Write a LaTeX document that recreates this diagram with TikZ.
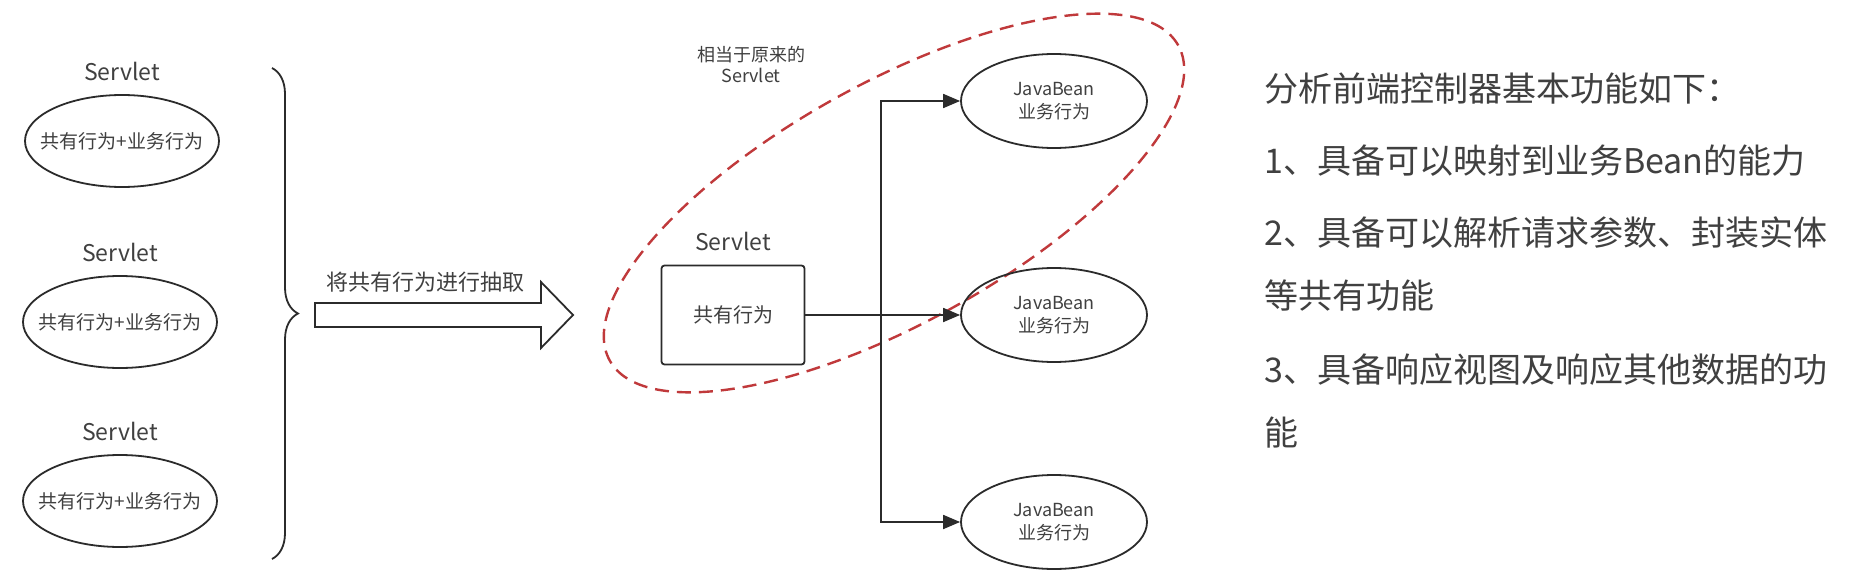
\documentclass[tikz,border=0pt]{standalone}
\usepackage{fontspec}
\setmainfont{Noto Sans CJK SC}
\usetikzlibrary{shapes.geometric, arrows.meta, positioning, decorations.pathreplacing}

\definecolor{linegray}{HTML}{2B2B2B}
\definecolor{textgray}{HTML}{404040}
\definecolor{dashred}{HTML}{C0393B}

\begin{document}
\begin{tikzpicture}[
    x=1pt, y=1pt,
    servlet/.style={ellipse, draw=linegray, line width=1.8pt, minimum width=194pt, minimum height=92pt, inner xsep=-13pt, inner ysep=0pt, font=\fontsize{19}{23}\selectfont, text=textgray},
    bean/.style={ellipse, draw=linegray, line width=1.8pt, minimum width=186pt, minimum height=94pt, inner sep=0pt, align=center, font=\fontsize{18}{23}\selectfont, text=textgray},
    common/.style={rectangle, rounded corners=3pt, draw=linegray, line width=1.8pt, minimum width=143pt, minimum height=99pt, font=\fontsize{20}{24}\selectfont, text=textgray},
    servletname/.style={inner sep=0pt, font=\fontsize{23}{28}\selectfont, text=textgray},
    note/.style={inner sep=0pt, align=center, font=\fontsize{18}{21}\selectfont, text=textgray},
    para/.style={inner sep=0pt, anchor=base west, font=\fontsize{34}{40}\selectfont, text=textgray},
    flow/.style={draw=linegray, line width=1.8pt, -{Triangle[length=17pt, width=14pt]}},
    bigbrace/.style={decorate, decoration={brace, amplitude=26pt}, draw=linegray, line width=1.8pt},
    hollow/.style={draw=linegray, line width=1.8pt, fill=white},
    reddash/.style={draw=dashred, line width=2.4pt, dash pattern=on 14pt off 8pt}
]
\fill[white] (0,0) rectangle (1864,-586);
\useasboundingbox (0,0) rectangle (1864,-586);

% Servlets before extraction
\node[servlet] (old1) at (122,-141) {共有行为+业务行为};
\node[servletname, above=13pt of old1] (name1) {Servlet};
\node[servlet] (old2) at (120,-322) {共有行为+业务行为};
\node[servletname, above=13pt of old2] (name2) {Servlet};
\node[servlet] (old3) at (120,-501) {共有行为+业务行为};
\node[servletname, above=13pt of old3] (name3) {Servlet};

% Brace
\draw[bigbrace] (272,-68) -- (272,-559);

% Extraction arrow
\draw[hollow] (315,-303) -- (541,-303) -- (541,-282) -- (573,-315) -- (541,-348) -- (541,-327) -- (315,-327) -- cycle;
\node[note, font=\fontsize{22}{26}\selectfont] (extract) at (425,-282) {将共有行为进行抽取};

% Front controller
\draw[reddash, rotate around={29:(894,-203)}] (894,-203) ellipse [x radius=325, y radius=120];
\node[note] (former) at (751,-65) {相当于原来的\\Servlet};
\node[common] (common) at (733,-315) {共有行为};
\node[servletname, above=14pt of common] (name4) {Servlet};

% Business beans
\node[bean] (bean1) at (1054,-101) {JavaBean\\业务行为};
\node[bean] (bean2) at (1054,-315) {JavaBean\\业务行为};
\node[bean] (bean3) at (1054,-522) {JavaBean\\业务行为};

% Arrows
\coordinate (split) at (881,-315);
\draw[flow] (common) -- (bean2);
\draw[flow] (split) |- (bean1);
\draw[flow] (split) |- (bean3);

% Functions
\node[para] (intro) at (1264,-102) {分析前端控制器基本功能如下：};
\node[para] (item1) at (1264,-173) {1、具备可以映射到业务Bean的能力};
\node[para] (item2) at (1264,-245) {2、具备可以解析请求参数、封装实体};
\node[para] (item2b) at (1264,-308) {等共有功能};
\node[para] (item3) at (1264,-382) {3、具备响应视图及响应其他数据的功};
\node[para] (item3b) at (1264,-445) {能};

\end{tikzpicture}
\end{document}
